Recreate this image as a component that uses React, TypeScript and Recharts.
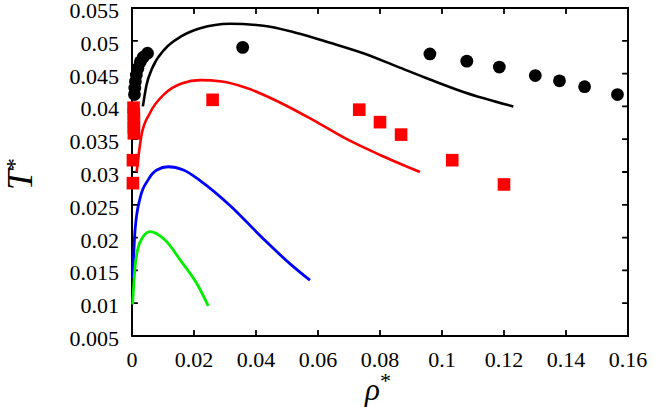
import React from 'react';
import { ComposedChart, Line, Scatter, XAxis, YAxis, ReferenceArea } from 'recharts';

// curves: [rho*, T*]
const BLACK_CURVE = [
  [0.0035, 0.04], [0.0047, 0.0433], [0.0065, 0.0458], [0.0105, 0.0487], [0.016, 0.0507],
  [0.022, 0.0519], [0.0316, 0.0526], [0.0424, 0.0523], [0.0531, 0.0512], [0.0639, 0.0497],
  [0.0746, 0.0481], [0.0854, 0.0461], [0.0961, 0.0441], [0.1069, 0.0422], [0.123, 0.04],
];
const RED_CURVE = [
  [0.0015, 0.03], [0.0031, 0.0357], [0.0058, 0.039], [0.0105, 0.0419], [0.016, 0.0435],
  [0.022, 0.044], [0.029, 0.0438], [0.037, 0.0428], [0.0477, 0.0406], [0.0585, 0.0379],
  [0.0693, 0.035], [0.08, 0.0326], [0.0929, 0.03],
];
const BLUE_CURVE = [
  [0.0002, 0.0138], [0.001, 0.0212], [0.0026, 0.026], [0.0052, 0.0288], [0.008, 0.0303],
  [0.0117, 0.0308], [0.0166, 0.0303], [0.0225, 0.0285], [0.0316, 0.0249], [0.0424, 0.0198],
  [0.051, 0.016], [0.0574, 0.0135],
];
const GREEN_CURVE = [
  [0.0002, 0.0098], [0.001, 0.0156], [0.0026, 0.0193], [0.0058, 0.0209], [0.0105, 0.0197],
  [0.016, 0.0163], [0.0209, 0.013], [0.0246, 0.0096],
];

// simulation points
const BLACK_POINTS = [
  [0.0008, 0.0418], [0.0009, 0.0428], [0.0011, 0.0438], [0.0014, 0.0448], [0.0019, 0.0458],
  [0.0027, 0.0468], [0.0036, 0.0475], [0.005, 0.0481], [0.0357, 0.049], [0.0961, 0.048],
  [0.108, 0.0469], [0.1185, 0.046], [0.1301, 0.0447], [0.1379, 0.0439], [0.146, 0.043],
  [0.1566, 0.0418],
];
const RED_POINTS = [
  [0.0005, 0.0398], [0.0006, 0.0388], [0.0006, 0.0378], [0.0006, 0.0368], [0.0006, 0.0359],
  [0.0003, 0.0318], [0.0003, 0.0283], [0.026, 0.041], [0.0733, 0.0395], [0.08, 0.0376],
  [0.0868, 0.0357], [0.1033, 0.0318], [0.12, 0.0281],
];

const X_TICKS = [0, 0.02, 0.04, 0.06, 0.08, 0.1, 0.12, 0.14, 0.16];
const Y_TICKS = [0.005, 0.01, 0.015, 0.02, 0.025, 0.03, 0.035, 0.04, 0.045, 0.05, 0.055];
const X_MIN = 0;
const X_MAX = 0.16;
const Y_MIN = 0.005;
const Y_MAX = 0.055;
// inward tick length, in data units (about 6px)
const TICK_RHO = 0.0019;
const TICK_T = 0.0009;

const toRows = (pts: number[][]) => pts.map(([rho, T]) => ({ rho, T }));

// tick marks on all four sides as one path, each one walked in and back out
const buildTicks = () => {
  const xs = X_TICKS.slice(1, -1);
  const ys = Y_TICKS.slice(1, -1);
  const pts: number[][] = [[X_MIN, Y_MIN]];
  xs.forEach((t) => pts.push([t, Y_MIN], [t, Y_MIN + TICK_T], [t, Y_MIN]));
  pts.push([X_MAX, Y_MIN]);
  ys.forEach((t) => pts.push([X_MAX, t], [X_MAX - TICK_RHO, t], [X_MAX, t]));
  pts.push([X_MAX, Y_MAX]);
  [...xs].reverse().forEach((t) => pts.push([t, Y_MAX], [t, Y_MAX - TICK_T], [t, Y_MAX]));
  pts.push([X_MIN, Y_MAX]);
  [...ys].reverse().forEach((t) => pts.push([X_MIN, t], [X_MIN + TICK_RHO, t], [X_MIN, t]));
  pts.push([X_MIN, Y_MIN]);
  return toRows(pts);
};

const FONT = 'Liberation Serif, Times New Roman, serif';

const XTick = ({ x, y, payload }: any) => (
  <text x={x} y={y} dy={15} textAnchor="middle" fontFamily={FONT} fontSize={22} fill="#000">
    {payload.value}
  </text>
);
const YTick = ({ x, y, payload }: any) => (
  <text x={x} y={y} dy={10} textAnchor="end" fontFamily={FONT} fontSize={22} fill="#000">
    {payload.value}
  </text>
);

const Circle = (p: any) => <circle cx={p.cx} cy={p.cy} r={6.4} fill="#000" />;
const Square = (p: any) => <rect x={p.cx - 6.3} y={p.cy - 6.3} width={12.6} height={12.6} fill="#ff0000" />;

const XLabel = ({ viewBox }: any) => (
  <text x={viewBox.x + viewBox.width / 2 - 2} y={viewBox.y + 64} textAnchor="middle"
    fontFamily={FONT} fontStyle="italic" fontSize={31} fill="#000">
    ρ<tspan fontSize={22} fontStyle="normal" dy={-12}>*</tspan>
  </text>
);

const YLabel = ({ viewBox }: any) => {
  const x = viewBox.x + 32;
  const y = viewBox.y + viewBox.height / 2 + 2;
  return (
    <text x={x} y={y} transform={`rotate(-90, ${x}, ${y})`} textAnchor="middle"
      fontFamily={FONT} fontStyle="italic" fontSize={36} fill="#000">
      T<tspan fontSize={24} fontStyle="normal" dy={-10}>*</tspan>
    </text>
  );
};

const lineProps = { type: 'monotone' as const, dot: false, activeDot: false, isAnimationActive: false };

export default function App() {
  return (
    <div>
      <style>{'body{margin:0}'}</style>
      <ComposedChart width={655} height={407} margin={{ top: 8, right: 27, bottom: 0, left: 0 }}>
        <XAxis type="number" dataKey="rho" domain={[X_MIN, X_MAX]} ticks={X_TICKS} interval={0} height={71}
          tickSize={0} tickMargin={16} tick={<XTick />} axisLine={false} tickLine={false}
          label={<XLabel />} />
        <YAxis type="number" dataKey="T" domain={[Y_MIN, Y_MAX]} ticks={Y_TICKS} interval={0} width={132}
          tickSize={0} tickMargin={13} tick={<YTick />} axisLine={false} tickLine={false}
          label={<YLabel />} />

        {/* plot box */}
        <ReferenceArea x1={X_MIN} x2={X_MAX} y1={Y_MIN} y2={Y_MAX} fill="none" fillOpacity={0}
          stroke="#000" strokeWidth={1.8} strokeOpacity={1} ifOverflow="visible" />
        <Line data={buildTicks()} dataKey="T" type="linear" stroke="#000" strokeWidth={1.8}
          dot={false} activeDot={false} isAnimationActive={false} />

        <Line data={toRows(BLACK_CURVE)} dataKey="T" stroke="#000" strokeWidth={2.6} {...lineProps} />
        <Line data={toRows(RED_CURVE)} dataKey="T" stroke="#ff0000" strokeWidth={2.6} {...lineProps} />
        <Line data={toRows(BLUE_CURVE)} dataKey="T" stroke="#0000ff" strokeWidth={2.8} {...lineProps} />
        <Line data={toRows(GREEN_CURVE)} dataKey="T" stroke="#00ee00" strokeWidth={2.8} {...lineProps} />

        <Scatter data={toRows(BLACK_POINTS)} dataKey="T" shape={Circle} isAnimationActive={false} />
        <Scatter data={toRows(RED_POINTS)} dataKey="T" shape={Square} isAnimationActive={false} />
      </ComposedChart>
    </div>
  );
}
